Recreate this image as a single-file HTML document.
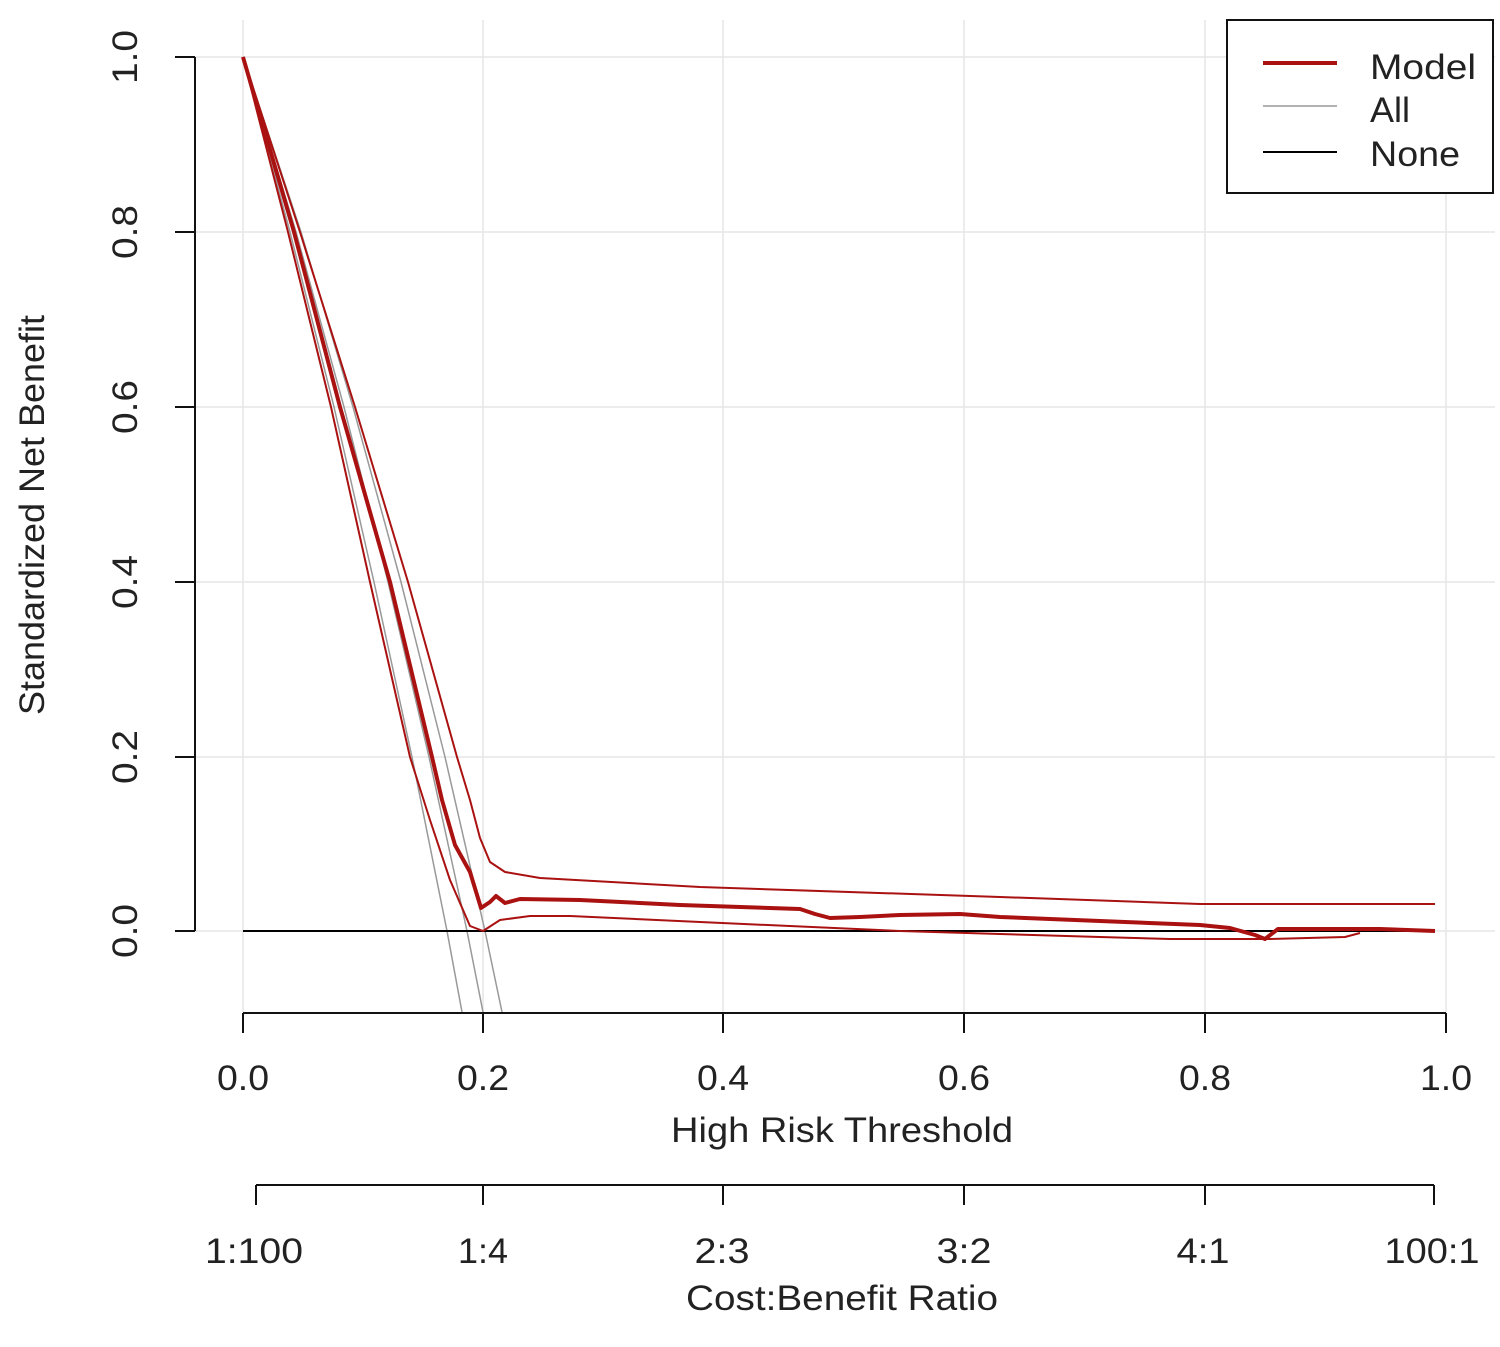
<!DOCTYPE html>
<html><head><style>body{margin:0;background:#fff}svg text{font-family:"Liberation Sans",sans-serif;fill:#222}</style></head><body>
<svg width="1500" height="1342" xmlns="http://www.w3.org/2000/svg">
<g stroke="#e6e6e6" stroke-width="1.5">
<line x1="243" y1="20" x2="243" y2="1012"/><line x1="483" y1="20" x2="483" y2="1012"/><line x1="723" y1="20" x2="723" y2="1012"/><line x1="964" y1="20" x2="964" y2="1012"/><line x1="1205" y1="20" x2="1205" y2="1012"/><line x1="1446" y1="20" x2="1446" y2="1012"/>
<line x1="195" y1="57" x2="1495" y2="57"/><line x1="195" y1="232" x2="1495" y2="232"/><line x1="195" y1="407" x2="1495" y2="407"/><line x1="195" y1="582" x2="1495" y2="582"/><line x1="195" y1="757" x2="1495" y2="757"/><line x1="195" y1="931" x2="1495" y2="931"/>
</g>
<g stroke="#111" stroke-width="2" fill="none">
<line x1="195" y1="57" x2="195" y2="931"/>
<line x1="175" y1="57" x2="195" y2="57"/><line x1="175" y1="232" x2="195" y2="232"/><line x1="175" y1="407" x2="195" y2="407"/><line x1="175" y1="582" x2="195" y2="582"/><line x1="175" y1="757" x2="195" y2="757"/><line x1="175" y1="931" x2="195" y2="931"/>
<line x1="243" y1="1013" x2="1446" y2="1013"/>
<line x1="243" y1="1013" x2="243" y2="1033"/><line x1="483" y1="1013" x2="483" y2="1033"/><line x1="723" y1="1013" x2="723" y2="1033"/><line x1="964" y1="1013" x2="964" y2="1033"/><line x1="1205" y1="1013" x2="1205" y2="1033"/><line x1="1446" y1="1013" x2="1446" y2="1033"/>
<line x1="256" y1="1185" x2="1434" y2="1185"/>
<line x1="256" y1="1185" x2="256" y2="1205"/><line x1="483" y1="1185" x2="483" y2="1205"/><line x1="723" y1="1185" x2="723" y2="1205"/><line x1="964" y1="1185" x2="964" y2="1205"/><line x1="1205" y1="1185" x2="1205" y2="1205"/><line x1="1434" y1="1185" x2="1434" y2="1205"/>
</g>
<g stroke="#999" stroke-width="1.5" fill="none">
<polyline points="243,57 290,232 334,407 374,582 412,757 447,931 462,1012"/>
<polyline points="243,57 296,232 344,407 388,582 429,757 467,931 483,1012"/>
<polyline points="243,57 301,232 353,407 401,582 445,757 485,931 502,1012"/>
</g>
<line x1="243" y1="931" x2="1435" y2="931" stroke="#000" stroke-width="2"/>
<g stroke="#aa1111" fill="none" stroke-linejoin="round">
<polyline stroke-width="2" points="243,57 300,232 355,407 408,582 457,757 470,800 480,838 490,862 505,872 540,878 700,887 1000,897 1200,904 1435,904"/>
<polyline stroke-width="2" points="243,57 288,232 331,407 370,582 410,757 430,820 450,880 470,926 483,931 500,920 530,916 570,916 700,922 900,931 1000,934 1100,937 1170,939 1270,939 1345,937 1360,933"/>
<polyline stroke-width="4" points="243,57 294,232 340,407 390,582 432,757 442,800 455,845 470,872 481,908 490,902 496,896 505,903 520,899 580,900 680,905 800,909 815,914 830,918 860,917 900,915 960,914 1000,917 1100,921 1200,925 1230,928 1255,935 1265,939 1278,929 1380,929 1435,931"/>
</g>
<g font-size="35" text-anchor="middle" lengthAdjust="spacingAndGlyphs">
<text transform="translate(137,57) rotate(-90)" textLength="54" lengthAdjust="spacingAndGlyphs">1.0</text>
<text transform="translate(137,232) rotate(-90)" textLength="54" lengthAdjust="spacingAndGlyphs">0.8</text>
<text transform="translate(137,407) rotate(-90)" textLength="54" lengthAdjust="spacingAndGlyphs">0.6</text>
<text transform="translate(137,582) rotate(-90)" textLength="54" lengthAdjust="spacingAndGlyphs">0.4</text>
<text transform="translate(137,757) rotate(-90)" textLength="54" lengthAdjust="spacingAndGlyphs">0.2</text>
<text transform="translate(137,931) rotate(-90)" textLength="54" lengthAdjust="spacingAndGlyphs">0.0</text>
<text transform="translate(44,515) rotate(-90)" textLength="400" lengthAdjust="spacingAndGlyphs">Standardized Net Benefit</text>
<text x="243" y="1090" textLength="52" lengthAdjust="spacingAndGlyphs">0.0</text><text x="483" y="1090" textLength="52" lengthAdjust="spacingAndGlyphs">0.2</text><text x="723" y="1090" textLength="52" lengthAdjust="spacingAndGlyphs">0.4</text><text x="964" y="1090" textLength="52" lengthAdjust="spacingAndGlyphs">0.6</text><text x="1205" y="1090" textLength="52" lengthAdjust="spacingAndGlyphs">0.8</text><text x="1446" y="1090" textLength="52" lengthAdjust="spacingAndGlyphs">1.0</text>
<text x="842" y="1142" textLength="342" lengthAdjust="spacingAndGlyphs">High Risk Threshold</text>
<text x="254" y="1263" textLength="98" lengthAdjust="spacingAndGlyphs">1:100</text><text x="483" y="1263" textLength="50" lengthAdjust="spacingAndGlyphs">1:4</text><text x="722" y="1263" textLength="55" lengthAdjust="spacingAndGlyphs">2:3</text><text x="964" y="1263" textLength="55" lengthAdjust="spacingAndGlyphs">3:2</text><text x="1203" y="1263" textLength="53" lengthAdjust="spacingAndGlyphs">4:1</text><text x="1432" y="1263" textLength="95" lengthAdjust="spacingAndGlyphs">100:1</text>
<text x="842" y="1310" textLength="312" lengthAdjust="spacingAndGlyphs">Cost:Benefit Ratio</text>
</g>
<rect x="1227" y="20" width="266" height="173" fill="#fff" stroke="#111" stroke-width="2"/>
<line x1="1263" y1="63" x2="1337" y2="63" stroke="#aa1111" stroke-width="4"/>
<line x1="1263" y1="106" x2="1337" y2="106" stroke="#999" stroke-width="1.5"/>
<line x1="1263" y1="152" x2="1337" y2="152" stroke="#000" stroke-width="2"/>
<g font-size="35"><text x="1370" y="79" textLength="106" lengthAdjust="spacingAndGlyphs">Model</text><text x="1370" y="122" textLength="40" lengthAdjust="spacingAndGlyphs">All</text><text x="1370" y="166" textLength="90" lengthAdjust="spacingAndGlyphs">None</text></g>
</svg>
</body></html>
